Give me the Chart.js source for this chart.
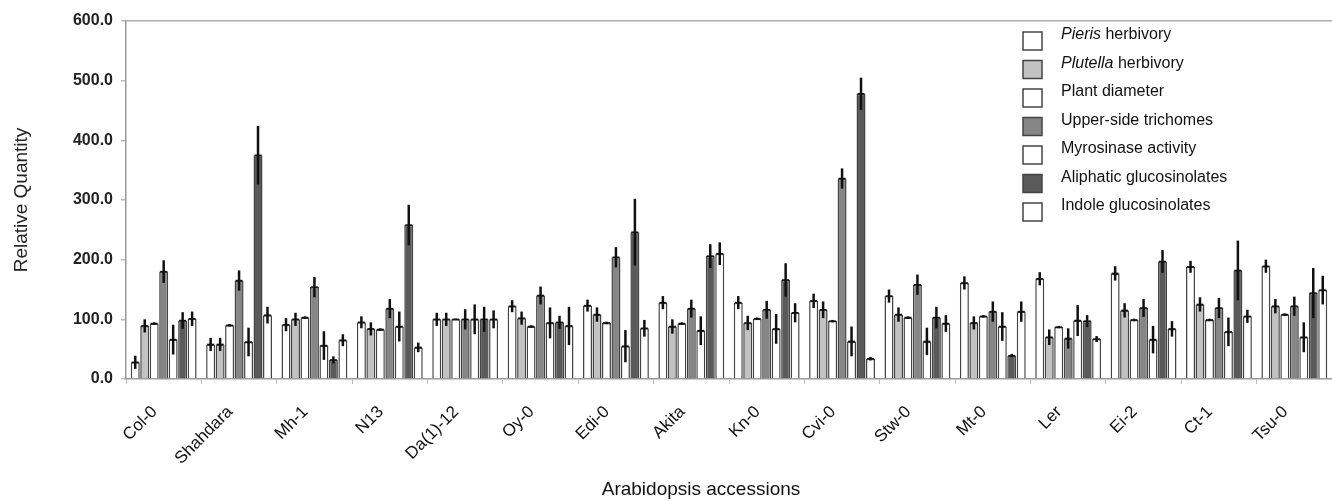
<!DOCTYPE html>
<html>
<head>
<meta charset="utf-8">
<title>Arabidopsis accessions</title>
<script src="https://cdn.jsdelivr.net/npm/chart.js"></script>
<style>
  html, body { margin: 0; padding: 0; background: #fff; }
  #wrap { width: 1332px; height: 501px; }
</style>
</head>
<body>
<div id="wrap"><canvas id="chart" width="1332" height="501"></canvas></div>
<script>
// accessions on the x axis
const accessions = ['Col-0', 'Shahdara', 'Mh-1', 'N13', 'Da(1)-12', 'Oy-0', 'Edi-0', 'Akita',
    'Kn-0', 'Cvi-0', 'Stw-0', 'Mt-0', 'Ler', 'Ei-2', 'Ct-1', 'Tsu-0'];

// values (relative to Da(1)-12 = 100)
const pieris      = [28, 58, 91, 95, 100, 122, 123, 128, 128, 131, 139, 161, 168, 177, 188, 189];
const pierisErr   = [11, 11, 11, 10, 11, 10, 10, 11, 11, 12, 11, 11, 11, 12, 10, 11];
const plutella    = [89, 58, 100, 84, 100, 102, 108, 88, 94, 116, 108, 94, 70, 115, 125, 122];
const plutellaErr = [11, 11, 11, 11, 11, 11, 12, 12, 12, 14, 12, 11, 13, 12, 12, 12];
const diameter    = [93, 90, 103, 83, 100, 88, 94, 93, 101, 97, 103, 105, 87, 99, 99, 108];
const diameterErr = [2, 2, 2, 2, 1, 2, 2, 2, 2, 2, 2, 2, 2, 2, 2, 2];
const trichomes   = [180, 165, 154, 118, 100, 140, 204, 118, 116, 336, 158, 113, 68, 119, 119, 122];
const trichomesErr = [19, 17, 17, 16, 17, 15, 17, 15, 15, 17, 17, 17, 17, 15, 17, 16];
const myrosinase  = [66, 62, 56, 88, 100, 94, 55, 81, 84, 63, 63, 88, 98, 66, 79, 70];
const myrosinaseErr = [25, 24, 24, 25, 25, 26, 27, 24, 25, 25, 23, 24, 26, 23, 24, 25];
const aliphatic   = [98, 375, 32, 258, 100, 95, 246, 206, 166, 478, 103, 39, 97, 197, 182, 144];
const aliphaticErr = [14, 49, 6, 34, 21, 11, 56, 20, 28, 27, 18, 3, 10, 19, 50, 42];
const indole      = [101, 107, 65, 53, 100, 89, 85, 210, 111, 34, 93, 113, 67, 84, 105, 149];
const indoleErr   = [12, 14, 10, 8, 15, 32, 14, 19, 16, 3, 14, 17, 5, 13, 11, 24];

const seriesLabels = ['Pieris herbivory', 'Plutella herbivory', 'Plant diameter', 'Upper-side trichomes',
    'Myrosinase activity', 'Aliphatic glucosinolates', 'Indole glucosinolates'];
const italicWords = ['Pieris', 'Plutella'];
const yTicks = [0, 100, 200, 300, 400, 500, 600];
const xTitle = 'Arabidopsis accessions';
const yTitle = 'Relative Quantity';

const FONT = '"Liberation Sans", Arial, Helvetica, sans-serif';
const fills = ['#ffffff', '#c2c2c2', '#ffffff', '#868686', '#ffffff', '#5a5a5a', '#ffffff'];
const values = [pieris, plutella, diameter, trichomes, myrosinase, aliphatic, indole];
const errors = [pierisErr, plutellaErr, diameterErr, trichomesErr, myrosinaseErr, aliphaticErr, indoleErr];

const datasets = seriesLabels.map((label, i) => ({
    label: label,
    data: values[i],
    errors: errors[i],
    backgroundColor: fills[i],
    borderColor: '#444444',
    borderWidth: 1.5,
    categoryPercentage: 0.88,
    barPercentage: 0.95
}));

// error bars drawn over every bar
const errorBars = {
    id: 'errorBars',
    afterDatasetsDraw(chart) {
        const ctx = chart.ctx;
        const y = chart.scales.y;
        ctx.save();
        ctx.strokeStyle = '#111';
        chart.data.datasets.forEach((ds, i) => {
            chart.getDatasetMeta(i).data.forEach((bar, j) => {
                const v = ds.data[j], e = ds.errors[j];
                ctx.lineWidth = 2.5;
                ctx.beginPath();
                ctx.moveTo(bar.x, y.getPixelForValue(v + e));
                ctx.lineTo(bar.x, y.getPixelForValue(v - e));
                ctx.stroke();
                ctx.lineWidth = 1.5;
                ctx.beginPath();
                ctx.moveTo(bar.x - 3.5, y.getPixelForValue(v));
                ctx.lineTo(bar.x + 3.5, y.getPixelForValue(v));
                ctx.stroke();
            });
        });
        ctx.restore();
    }
};

// legend inside the plot, plus the x axis title
const legendAndTitle = {
    id: 'legendAndTitle',
    afterDraw(chart) {
        const ctx = chart.ctx;
        ctx.save();
        chart.data.datasets.forEach((ds, i) => {
            const top = 32 + i * 28.5;
            ctx.fillStyle = ds.backgroundColor;
            ctx.strokeStyle = '#444';
            ctx.lineWidth = 1.5;
            ctx.fillRect(1023, top, 19, 18);
            ctx.strokeRect(1023, top, 19, 18);

            ctx.fillStyle = '#111';
            ctx.textBaseline = 'middle';
            ctx.textAlign = 'left';
            let x = 1061;
            const ty = top + 3;
            let text = ds.label;
            const it = italicWords.find(w => text.startsWith(w + ' '));
            if (it) {
                ctx.font = 'italic 16px ' + FONT;
                ctx.fillText(it, x, ty);
                x += ctx.measureText(it).width;
                text = text.slice(it.length);
            }
            ctx.font = '16px ' + FONT;
            ctx.fillText(text, x, ty);
        });

        ctx.font = '19px ' + FONT;
        ctx.fillStyle = '#111';
        ctx.textAlign = 'center';
        ctx.textBaseline = 'middle';
        ctx.fillText(xTitle, 701, 490);
        ctx.restore();
    }
};

new Chart(document.getElementById('chart'), {
    type: 'bar',
    data: { labels: accessions, datasets: datasets },
    options: {
        responsive: false,
        animation: false,
        devicePixelRatio: 1,
        layout: { padding: { top: 21, right: 0, left: 0, bottom: 0 } },
        plugins: { legend: { display: false }, tooltip: { enabled: false } },
        scales: {
            x: {
                grid: { offset: true, drawOnChartArea: false, tickLength: 5, tickColor: '#bbb' },
                border: { color: '#999', width: 1.5 },
                ticks: {
                    maxRotation: 45, minRotation: 45, padding: 18, labelOffset: -9,
                    color: '#111', font: { family: FONT, size: 17 }
                },
                afterFit(scale) { scale.height = 122; }
            },
            y: {
                min: 0,
                max: 600,
                afterBuildTicks(scale) { scale.ticks = yTicks.map(v => ({ value: v })); },
                grid: {
                    color: ctx => ctx.tick && ctx.tick.value === 600 ? '#b0b0b0' : 'rgba(0,0,0,0)',
                    tickColor: '#bbb',
                    tickLength: 5,
                    lineWidth: 1.5
                },
                border: { color: '#999', width: 1.5 },
                ticks: {
                    padding: 8,
                    color: '#222',
                    font: { family: FONT, size: 16, weight: 'bold' },
                    callback: v => v.toFixed(1)
                },
                title: {
                    display: true,
                    text: yTitle,
                    color: '#222',
                    font: { family: FONT, size: 19 },
                    padding: { top: 10, bottom: 0 }
                },
                afterFit(scale) { scale.width = 126; }
            }
        }
    },
    plugins: [errorBars, legendAndTitle]
});
</script>
</body>
</html>
